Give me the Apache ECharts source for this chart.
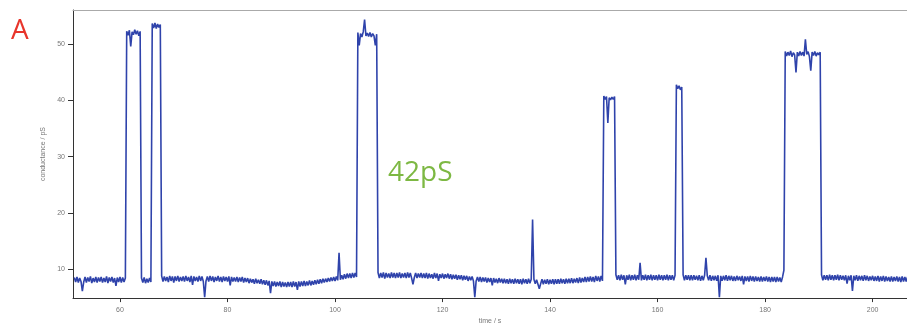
<!DOCTYPE html>
<html>
<head>
<meta charset="utf-8">
<script src="https://cdn.jsdelivr.net/npm/echarts@6/dist/echarts.min.js"></script>
<style>
html,body{margin:0;padding:0;background:#fff;}
#c{width:907px;height:330px;}
</style>
</head>
<body>
<div id="c"></div>
<script>
// sampled trace: time of first sample and spacing (s)
const timeStart = 51.5;
const timeStep = 0.25;
// conductance (pS), one value per sample, 20 samples (5 s) per row
const conductance = [
  8.5, 7.7, 8.6, 7.6, 8.4, 7.8, 6.1, 7.7, 8.6, 7.6, 8.5, 7.8, 8.7, 7.5, 8.4, 7.7, 8.6, 7.6, 8.5, 7.8,
  8.6, 7.6, 8.4, 7.7, 8.7, 7.5, 8.5, 7.8, 8.6, 7.6, 8.4, 7.0, 8.5, 7.7, 8.6, 7.6, 8.5, 7.7, 8.4, 52.3,
  51.6, 52.5, 49.6, 52.2, 51.7, 52.6, 51.8, 52.4, 51.5, 52.3, 8.4, 7.6, 8.5, 7.5, 8.3, 7.6, 8.4, 7.7, 53.7, 52.9,
  53.8, 52.8, 53.6, 53.0, 53.5, 8.8, 7.8, 8.7, 7.9, 8.6, 7.7, 8.8, 7.9, 8.7, 7.6, 8.7, 7.9, 8.8, 7.8, 8.6,
  7.9, 8.7, 7.8, 8.8, 7.9, 8.6, 7.7, 8.8, 7.2, 8.7, 7.9, 8.6, 7.8, 8.8, 7.9, 8.7, 7.8, 5.0, 7.9, 8.7,
  7.8, 8.8, 7.9, 8.7, 7.7, 8.6, 7.9, 8.8, 7.8, 8.6, 7.7, 8.7, 7.9, 8.6, 7.8, 8.7, 7.1, 8.6, 7.8, 8.5,
  7.8, 8.6, 7.7, 8.5, 7.8, 8.6, 7.6, 8.4, 7.7, 8.4, 7.5, 8.3, 7.6, 8.2, 7.4, 8.3, 7.5, 8.1, 7.4, 8.2,
  7.3, 8.0, 7.2, 8.0, 7.1, 7.9, 5.7, 7.8, 7.0, 7.8, 6.9, 7.7, 7.0, 7.8, 6.8, 7.7, 6.9, 7.6, 6.8, 7.7,
  6.9, 7.7, 6.8, 7.8, 6.9, 7.7, 6.3, 7.8, 6.9, 7.8, 7.0, 7.9, 7.0, 7.8, 7.1, 8.0, 7.1, 7.9, 7.2, 8.0,
  7.3, 8.1, 7.4, 8.2, 7.5, 8.3, 7.6, 8.3, 7.7, 8.4, 7.8, 8.5, 7.9, 8.6, 7.9, 8.7, 8.0, 12.9, 8.1, 8.9,
  8.2, 9.1, 8.3, 9.2, 8.4, 9.2, 8.4, 9.3, 8.5, 9.3, 8.6, 52.1, 49.8, 51.9, 51.3, 52.2, 54.4, 51.5, 52.0, 51.4,
  52.1, 51.3, 51.9, 51.5, 49.8, 51.8, 9.4, 8.4, 9.3, 8.5, 9.4, 8.3, 9.3, 8.5, 9.2, 8.4, 9.4, 8.5, 9.3, 8.4,
  9.3, 8.5, 9.4, 8.4, 9.2, 8.5, 9.3, 8.4, 9.4, 8.5, 9.3, 8.4, 7.3, 8.5, 9.3, 8.4, 9.2, 8.5, 9.3, 8.4,
  9.2, 8.4, 9.3, 8.3, 9.2, 8.4, 9.1, 8.3, 9.3, 8.4, 9.2, 7.9, 9.1, 8.4, 9.2, 8.3, 9.1, 8.4, 9.2, 8.3,
  9.1, 8.2, 9.0, 8.3, 9.0, 8.1, 8.9, 8.2, 8.9, 8.0, 8.8, 8.1, 8.8, 7.9, 8.7, 8.0, 8.7, 7.9, 5.0, 7.9,
  8.6, 7.8, 8.6, 7.7, 8.5, 7.8, 8.5, 7.6, 8.4, 7.7, 8.4, 7.1, 8.4, 7.6, 8.3, 7.5, 8.4, 7.6, 8.3, 7.5,
  8.3, 7.5, 8.2, 7.4, 8.3, 7.5, 8.2, 7.4, 8.3, 7.5, 8.2, 7.4, 8.2, 7.3, 8.3, 7.5, 8.2, 7.4, 8.3, 7.5,
  8.2, 18.8, 8.2, 7.4, 8.1, 7.3, 6.5, 7.4, 8.2, 7.3, 8.1, 7.4, 8.2, 7.3, 8.1, 7.4, 8.2, 7.3, 8.2, 7.4,
  8.2, 7.4, 8.3, 7.5, 8.2, 7.4, 8.3, 7.5, 8.3, 7.5, 8.4, 7.5, 8.3, 7.6, 8.4, 7.5, 8.5, 7.6, 8.4, 7.7,
  8.6, 7.7, 8.6, 7.8, 8.7, 7.8, 8.6, 7.7, 8.8, 7.9, 8.7, 7.8, 8.8, 7.9, 40.8, 40.2, 40.7, 36.0, 40.5, 40.1,
  40.6, 40.2, 40.7, 9.0, 8.1, 8.9, 8.0, 9.0, 8.1, 8.9, 7.3, 8.9, 8.1, 9.0, 8.0, 8.9, 8.1, 9.0, 8.0, 8.9,
  8.1, 11.1, 8.0, 8.9, 8.1, 9.0, 8.0, 8.9, 8.1, 9.0, 8.0, 8.9, 8.1, 8.9, 8.0, 9.0, 8.1, 8.9, 8.0, 8.9,
  8.1, 9.0, 8.0, 8.9, 8.1, 8.9, 8.0, 8.9, 42.8, 42.1, 42.6, 41.9, 42.4, 9.0, 8.0, 8.9, 8.1, 8.9, 8.0, 8.9,
  8.0, 8.9, 8.1, 8.8, 8.0, 8.9, 7.9, 8.8, 8.0, 8.9, 12.0, 8.8, 8.0, 8.9, 7.9, 8.8, 8.0, 8.8, 7.9, 8.9,
  5.0, 8.8, 7.9, 8.8, 8.0, 8.9, 7.9, 8.8, 8.0, 8.8, 7.9, 8.7, 7.9, 8.8, 8.0, 8.7, 7.9, 8.8, 7.3, 8.7,
  7.9, 8.7, 7.8, 8.8, 7.9, 8.7, 7.8, 8.7, 7.9, 8.6, 7.8, 8.7, 7.8, 8.6, 7.9, 8.7, 7.8, 8.6, 7.7, 8.6,
  7.8, 8.6, 7.7, 8.6, 7.8, 8.5, 7.7, 8.6, 9.8, 48.7, 47.9, 48.6, 48.0, 48.8, 47.8, 48.5, 48.1, 45.0, 48.6, 47.9,
  48.7, 48.0, 48.6, 47.9, 50.9, 48.2, 48.7, 47.8, 45.3, 48.6, 48.0, 48.7, 47.9, 48.5, 48.1, 48.6, 9.0, 8.0, 8.9, 8.1,
  8.9, 8.0, 9.0, 8.1, 8.9, 8.0, 8.9, 8.1, 9.0, 8.0, 8.9, 8.1, 8.8, 8.0, 8.9, 7.4, 8.8, 8.0, 8.9, 6.1,
  8.8, 8.0, 8.9, 7.9, 8.8, 8.0, 8.8, 7.9, 8.9, 8.0, 8.8, 7.9, 8.7, 8.0, 8.8, 7.9, 8.7, 7.9, 8.8, 7.8,
  8.7, 7.9, 8.8, 7.8, 8.7, 7.9, 8.6, 7.8, 8.7, 7.8, 8.6, 7.9, 8.7, 7.8, 8.6, 7.7, 8.7, 7.8, 8.6, 7.8,
  8.6
];
const xTicks = [60, 80, 100, 120, 140, 160, 180, 200];
const yTicks = [10, 20, 30, 40, 50];

const trace = conductance.map((v, i) => [timeStart + i * timeStep, v]);

const chart = echarts.init(document.getElementById('c'), null, {renderer: 'canvas'});
const tickFont = {fontSize: 7, color: '#777', fontFamily: 'Liberation Sans, Arial, sans-serif'};
chart.setOption({
  animation: false,
  backgroundColor: '#fff',
  grid: {left: 73, right: 0, top: 10, bottom: 26},
  xAxis: [{
    type: 'value', min: 51.26, max: 206.4,
    name: 'time / s', nameLocation: 'middle', nameGap: 15,
    nameTextStyle: tickFont,
    axisLine: {show: true, lineStyle: {color: '#333', width: 1}},
    axisTick: {show: true, customValues: xTicks, length: 4, lineStyle: {color: '#333'}},
    axisLabel: Object.assign({customValues: xTicks, margin: 8}, tickFont),
    splitLine: {show: false}
  }, {
    type: 'value', position: 'top', min: 51.26, max: 206.4,
    axisLine: {show: true, lineStyle: {color: '#aaa', width: 1}},
    axisTick: {show: false}, axisLabel: {show: false}, splitLine: {show: false}
  }],
  yAxis: {
    type: 'value', min: 4.84, max: 56.1,
    name: 'conductance / pS', nameLocation: 'middle', nameGap: 19, nameRotate: 90,
    nameTextStyle: tickFont,
    axisLine: {show: true, lineStyle: {color: '#333', width: 1}},
    axisTick: {show: true, customValues: yTicks, length: 5, lineStyle: {color: '#333'}},
    axisLabel: Object.assign({customValues: yTicks, margin: 8}, tickFont),
    splitLine: {show: false}
  },
  graphic: [
    {type: 'text', left: 11, top: 17, style: {text: 'A', fontSize: 28, fill: '#e8352b', fontFamily: 'Open Sans, sans-serif'}},
    {type: 'text', left: 388, top: 159, style: {text: '42pS', fontSize: 28, fill: '#7db843', fontFamily: 'Open Sans, sans-serif'}}
  ],
  series: [{
    type: 'line', data: trace, showSymbol: false, sampling: null,
    xAxisIndex: 0,
    lineStyle: {color: '#2f43ab', width: 1.6},
    clip: true
  }]
});
</script>
</body>
</html>
